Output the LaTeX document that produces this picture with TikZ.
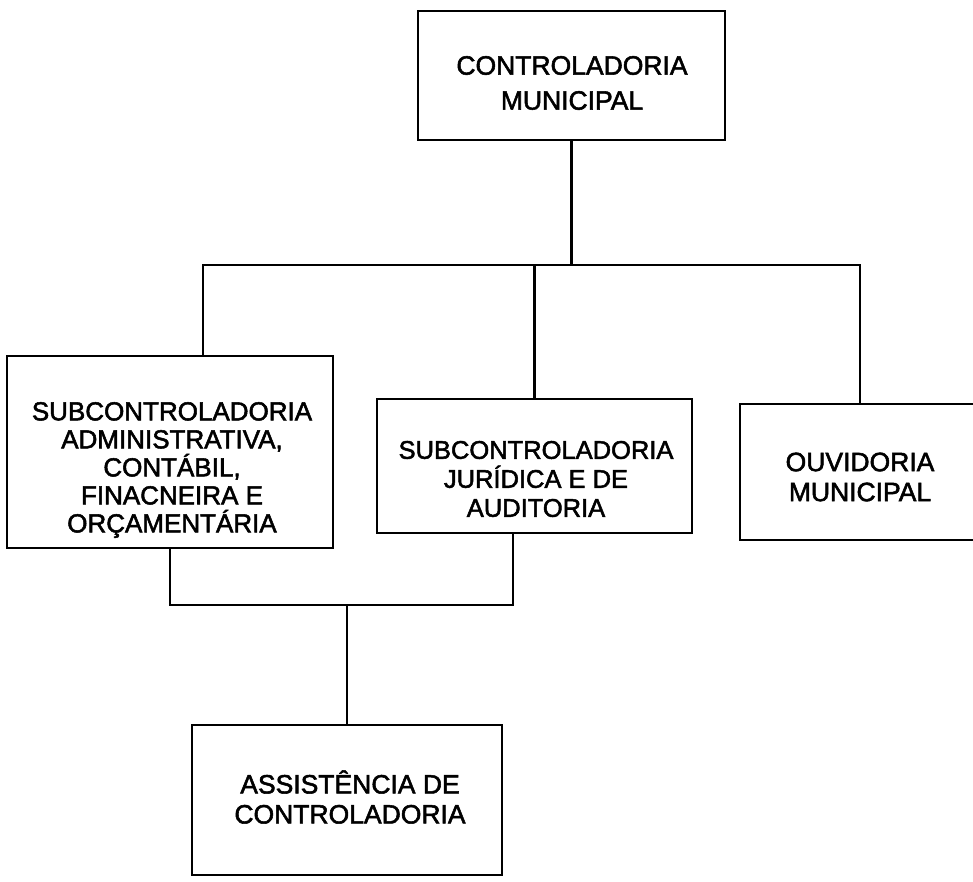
\documentclass[tikz,border=0pt]{standalone}
\usepackage{fontspec}
\setmainfont{Liberation Sans}
\newfontfamily\scanfont{Liberation Sans}[FakeBold=2]
\begin{document}
\begin{tikzpicture}[x=1pt,y=-1pt,
  orgbox/.style={draw=black,line width=2.2pt,fill=white,inner sep=0pt},
  boxtext/.style={align=center,inner sep=0pt},
  link/.style={draw=black,line width=2.2pt}]
\useasboundingbox (0,0) rectangle (973,882);
\clip (0,0) rectangle (973,882);
\fill[white] (0,0) rectangle (973,882);

% boxes
\node[orgbox,minimum width=307pt,minimum height=129pt] (top) at (571.5,75.5) {};
\node[orgbox,minimum width=326pt,minimum height=192pt] (b1) at (170,452) {};
\node[orgbox,minimum width=315pt,minimum height=134pt] (b2) at (534.5,466) {};
\node[orgbox,minimum width=240pt,minimum height=136pt] (b3) at (860,472) {};
\node[orgbox,minimum width=310pt,minimum height=150pt] (b4) at (347,800) {};

% texts
\node[boxtext,font=\scanfont\fontsize{26.5}{35}\selectfont] (top-t) at (572,83) {CONTROLADORIA\\MUNICIPAL};
\node[boxtext,font=\scanfont\fontsize{26}{28}\selectfont] (b1-t) at (172,470) {SUBCONTROLADORIA\\ADMINISTRATIVA,\\CONTÁBIL,\\FINACNEIRA E\\ORÇAMENTÁRIA};
\node[boxtext,font=\scanfont\fontsize{25.5}{29}\selectfont] (b2-t) at (536,479) {SUBCONTROLADORIA\\JURÍDICA E DE\\AUDITORIA};
\node[boxtext,font=\scanfont\fontsize{26.5}{30}\selectfont] (b3-t) at (860,477) {OUVIDORIA\\MUNICIPAL};
\node[boxtext,font=\scanfont\fontsize{26.5}{30}\selectfont] (b4-t) at (350,797) {ASSISTÊNCIA DE\\CONTROLADORIA};

% connectors
\coordinate (busL) at (203,265);
\coordinate (j1) at (170,605);
\coordinate (j2) at (513,605);
\coordinate (j3) at (347,605);

\draw[link] (top.south) -- (top.south |- busL);
\draw[link] (busL |- b1.north) -- (busL) -- (b3.north |- busL) -- (b3.north);
\draw[link] (b2.north |- busL) -- (b2.north);
\draw[link] (b1.south -| j1) -- (j1) -- (j2) -- (b2.south -| j2);
\draw[link] (j3) -- (b4.north -| j3);
\end{tikzpicture}
\end{document}
